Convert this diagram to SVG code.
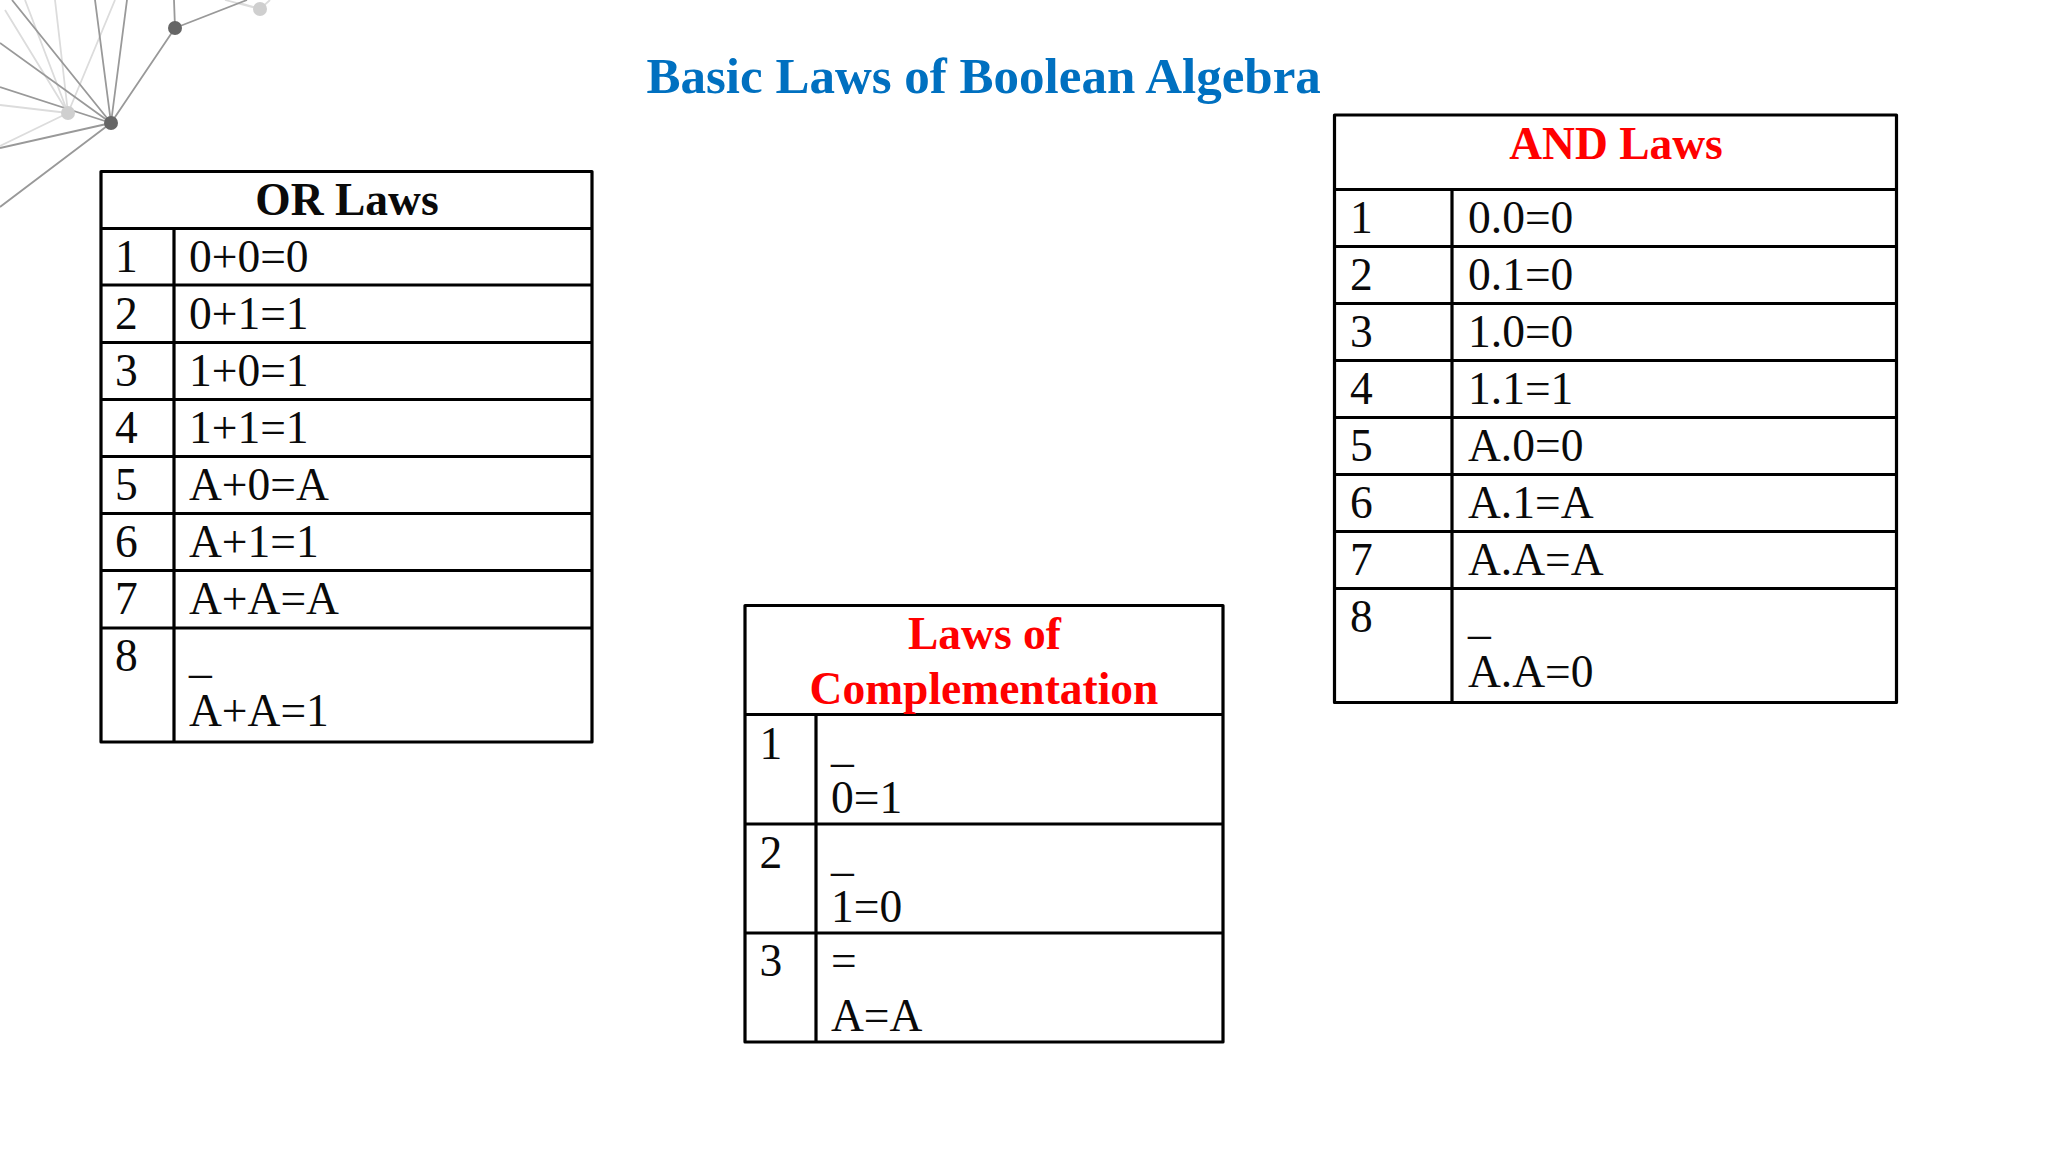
<svg xmlns="http://www.w3.org/2000/svg" width="2048" height="1152" viewBox="0 0 2048 1152">
<style>
text{font-family:"Liberation Serif","Times New Roman",serif;fill:#0a0a0a;font-size:45.5px}
.h{font-weight:bold;font-size:45.5px;text-anchor:middle}
.r{fill:#f00}
.t{font-weight:bold;font-size:51px;fill:#0070c0}
.g{fill:none;stroke:#000;stroke-width:3.2;stroke-linejoin:round;stroke-linecap:square}
.d{stroke:#999;stroke-width:1.8;fill:none}
.l{stroke:#dcdcdc;stroke-width:1.8;fill:none}
</style>
<rect width="2048" height="1152" fill="#fff"/>
<g id="decoration">
<path class="l" d="M68 113L0 105M68 113L0 146M68 113L25 0M68 113L5 10M68 113L55 0M68 113L115 0M260 9L225 0M260 9L270 0M260 9L240 3"/>
<path class="d" d="M111 123L0 207M111 123L0 148M111 123L0 87M111 123L0 43M111 123L12 0M111 123L95 0M111 123L127 0M111 123L175 28M175 28L174 0M175 28L247 0"/>
<circle cx="68" cy="113" r="7" fill="#cfcfcf"/>
<circle cx="260" cy="9" r="7" fill="#cfcfcf"/>
<circle cx="111" cy="123" r="7" fill="#666"/>
<circle cx="175" cy="28" r="7" fill="#666"/>
</g>
<text id="title" class="t" x="646.500" y="93">Basic Laws of Boolean Algebra</text>
<g id="or-laws">
<path class="g" d="M101 171.500H592V742H101ZM101 228.500H592M101 285H592M101 342.500H592M101 399.500H592M101 456.500H592M101 513.500H592M101 570.500H592M101 628H592M174 228.500V742"/>
<text class="h" x="347" y="215">OR Laws</text>
<text x="115" y="272">1</text><text x="189" y="272">0+0=0</text>
<text x="115" y="329">2</text><text x="189" y="329">0+1=1</text>
<text x="115" y="386">3</text><text x="189" y="386">1+0=1</text>
<text x="115" y="443">4</text><text x="189" y="443">1+1=1</text>
<text x="115" y="500">5</text><text x="189" y="500">A+0=A</text>
<text x="115" y="557">6</text><text x="189" y="557">A+1=1</text>
<text x="115" y="614">7</text><text x="189" y="614">A+A=A</text>
<text x="115" y="671">8</text><text x="189" y="672">_</text><text x="189" y="726">A+A=1</text>
</g>
<g id="complementation-laws">
<path class="g" d="M745 605.500H1223V1042H745ZM745 714.500H1223M745 824H1223M745 933H1223M816 714.500V1042"/>
<text class="h r" x="984.500" y="649">Laws of</text>
<text class="h r" x="984" y="704">Complementation</text>
<text x="759.500" y="759">1</text><text x="831" y="761">_</text><text x="831" y="813">0=1</text>
<text x="759.500" y="868">2</text><text x="831" y="870">_</text><text x="831" y="922">1=0</text>
<text x="759.500" y="976">3</text><text x="831" y="976">=</text><text x="831" y="1031">A=A</text>
</g>
<g id="and-laws">
<path class="g" d="M1334.500 115H1896.500V702.500H1334.500ZM1334.500 189.500H1896.500M1334.500 246.500H1896.500M1334.500 303.500H1896.500M1334.500 360.500H1896.500M1334.500 417.500H1896.500M1334.500 474.500H1896.500M1334.500 531.500H1896.500M1334.500 588.500H1896.500M1452 189.500V702.500"/>
<text class="h r" x="1616" y="159">AND Laws</text>
<text x="1350" y="233">1</text><text x="1468" y="233">0.0=0</text>
<text x="1350" y="290">2</text><text x="1468" y="290">0.1=0</text>
<text x="1350" y="347">3</text><text x="1468" y="347">1.0=0</text>
<text x="1350" y="404">4</text><text x="1468" y="404">1.1=1</text>
<text x="1350" y="461">5</text><text x="1468" y="461">A.0=0</text>
<text x="1350" y="518">6</text><text x="1468" y="518">A.1=A</text>
<text x="1350" y="575">7</text><text x="1468" y="575">A.A=A</text>
<text x="1350" y="632">8</text><text x="1468" y="633">_</text><text x="1468" y="687">A.A=0</text>
</g>
</svg>
